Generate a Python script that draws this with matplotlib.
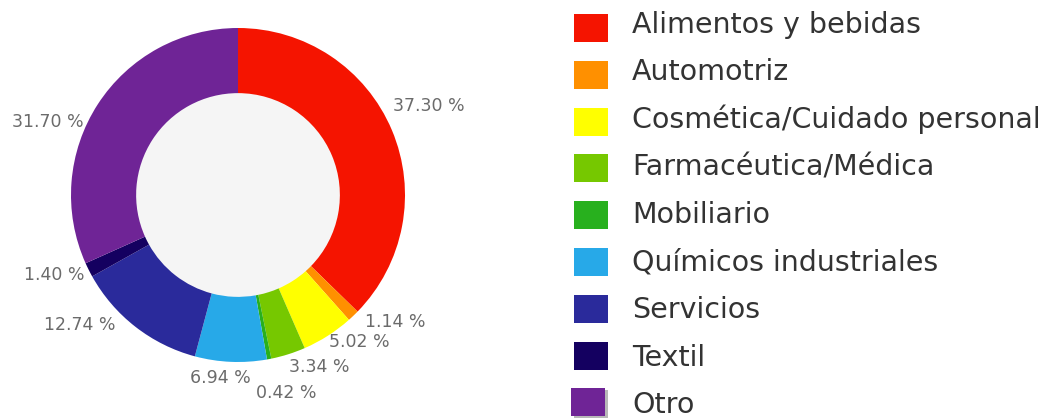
import numpy as np
import matplotlib
matplotlib.use("Agg")
import matplotlib.pyplot as plt
from matplotlib.patches import Rectangle

# Data
categories = ["Alimentos y bebidas", "Automotriz", "Cosmética/Cuidado personal",
              "Farmacéutica/Médica", "Mobiliario", "Químicos industriales",
              "Servicios", "Textil", "Otro"]
shares = [37.30, 1.14, 5.02, 3.34, 0.42, 6.94, 12.74, 1.40, 31.70]
colors = ["#f51400", "#ff9000", "#ffff00", "#76c800", "#28b01e",
          "#27a9e8", "#2a2a9b", "#140060", "#6f2496"]

# label layout (angle nudge in degrees, radius in outer-radius units)
label_shift = [-2.3, -7.3, -6.9, -7.7, -2.8, 3.1, 12.7, 3.1, -12.0]
label_radius = [1.26, 1.21, 1.14, 1.14, 1.22, 1.10, 1.23, 1.20, 1.22]

plt.rcParams["font.family"] = ["DejaVu Sans"]

W, H = 1055, 419
fig = plt.figure(figsize=(W / 100, H / 100), dpi=100)

# pie axes: centre at (238, 195) px, outer radius 167 px
cx, cy, R = 238, 195, 167
half = 1.35
side = 2 * half * R
ax = fig.add_axes([(cx - side / 2) / W, (H - cy - side / 2) / H, side / W, side / H])

wedges, _ = ax.pie(shares, colors=colors, startangle=90, counterclock=False,
                   radius=1.0, wedgeprops=dict(width=0.39, linewidth=0))
ax.add_patch(plt.Circle((0, 0), 0.61, color="#f5f5f5", zorder=0))
ax.set_xlim(-half, half)
ax.set_ylim(-half, half)
ax.set_aspect("equal")
ax.axis("off")

cum = np.cumsum([0] + shares[:-1])
for val, c0, sh, rr in zip(shares, cum, label_shift, label_radius):
    ang = np.deg2rad((c0 + val / 2) / 100 * 360 + sh)
    ax.text(rr * np.sin(ang), rr * np.cos(ang), f"{val:.2f} %",
            ha="center", va="center", fontsize=12.5, color="#6b6b6b")

# legend drawn in pixel coordinates
lax = fig.add_axes([0, 0, 1, 1])
lax.set_xlim(0, W)
lax.set_ylim(H, 0)
lax.axis("off")
for i, (name, col) in enumerate(zip(categories, colors)):
    top = 14 + i * 46.8
    base = 33 + i * 47.5
    x0 = 574 if name != "Otro" else 571
    if name == "Otro":
        lax.add_patch(Rectangle((x0 + 3, top + 2), 34, 28, color="#b8b8b8", lw=0))
    lax.add_patch(Rectangle((x0, top), 34, 28, color=col, lw=0))
    lax.text(632, base, name, ha="left", va="baseline", fontsize=20.5, color="#333333")

fig.savefig("out.png", dpi=100)
